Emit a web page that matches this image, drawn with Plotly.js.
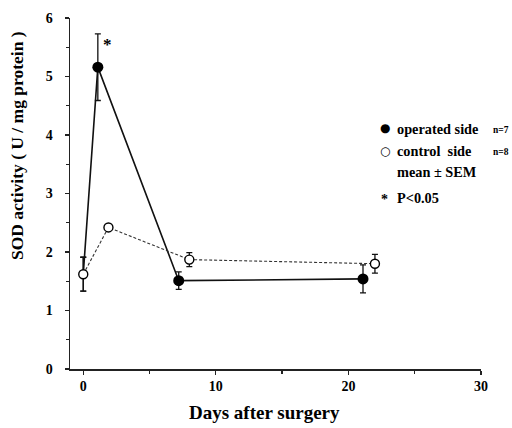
<!DOCTYPE html>
<html>
<head>
<meta charset="utf-8">
<script src="https://cdn.plot.ly/plotly-3.0.1.min.js"></script>
<style>html,body{margin:0;padding:0;background:#fff;}#chart{width:512px;height:428px;}</style>
</head>
<body>
<div id="chart"></div>
<script>
// Data
const operatedDays = [0, 1.1, 7.2, 21.1];
const operatedMean = [1.62, 5.16, 1.51, 1.54];
const operatedSEM  = [0.29, 0.57, 0.15, 0.24];

const controlDays = [0, 1.9, 8.0, 22.0];
const controlMean = [1.62, 2.42, 1.87, 1.80];
const controlSEM  = [0.29, 0.0, 0.12, 0.16];

const yTicks = [0, 1, 2, 3, 4, 5, 6];
const xTicks = [0, 10, 20, 30];

const serif = 'Liberation Serif, Times New Roman, serif';

const operated = {
  x: operatedDays, y: operatedMean, type: 'scatter', mode: 'lines+markers',
  name: 'operated side',
  line: {color: '#111', width: 1.6},
  marker: {color: '#000', opacity: 1, size: operatedDays.map((d, i) => i === 0 ? 0 : 11), symbol: 'circle',
           line: {color: '#000', width: 0}},
  error_y: {type: 'data', array: operatedSEM, visible: true, color: '#111', thickness: 1.3, width: 3},
  cliponaxis: false, showlegend: false
};
const control = {
  x: controlDays, y: controlMean, type: 'scatter', mode: 'lines+markers',
  name: 'control side',
  line: {color: '#333', width: 1.1, dash: '3px,2px'},
  marker: {color: '#fff', opacity: 1, size: 9, symbol: 'circle', line: {color: '#000', width: 1.4}},
  error_y: {type: 'data', array: controlSEM, visible: true, color: '#111', thickness: 1.3, width: 3},
  cliponaxis: false, showlegend: false
};

const PX = (p) => (p - 70) / 411;
const PY = (p) => (369 - p) / 351;
const bold = (size) => ({family: serif, size: size, color: '#000', weight: 700});

const annotations = [
  {text: '<b>SOD activity ( U / mg protein )</b>', xref: 'paper', yref: 'paper', x: PX(17), y: PY(146),
   textangle: -90, showarrow: false, font: bold(17.5), xanchor: 'center', yanchor: 'middle'},
  {text: '<b>Days after surgery</b>', xref: 'paper', yref: 'paper', x: PX(264), y: PY(412),
   showarrow: false, font: bold(19), xanchor: 'center', yanchor: 'middle'},
  {text: '<b>*</b>', xref: 'x', yref: 'y', x: 1.86, y: 5.55, showarrow: false, font: bold(17),
   xanchor: 'center', yanchor: 'middle'},
  {text: '●', xref: 'paper', yref: 'paper', x: PX(385), y: PY(128), showarrow: false,
   font: {family: 'DejaVu Sans', size: 12, color: '#000'}, xanchor: 'center', yanchor: 'middle'},
  {text: '○', xref: 'paper', yref: 'paper', x: PX(385), y: PY(151), showarrow: false,
   font: {family: 'DejaVu Sans', size: 12, color: '#000'}, xanchor: 'center', yanchor: 'middle'},
  {text: '<b>operated side</b>', xref: 'paper', yref: 'paper', x: PX(395), y: PY(129), showarrow: false,
   font: bold(14.3), xanchor: 'left', yanchor: 'middle'},
  {text: '<b>n=7</b>', xref: 'paper', yref: 'paper', x: PX(510), y: PY(130), showarrow: false,
   font: bold(9.5), xanchor: 'right', yanchor: 'middle', borderpad: 0},
  {text: '<b>control&nbsp;&nbsp;side</b>', xref: 'paper', yref: 'paper', x: PX(395), y: PY(151), showarrow: false,
   font: bold(14.3), xanchor: 'left', yanchor: 'middle'},
  {text: '<b>n=8</b>', xref: 'paper', yref: 'paper', x: PX(510), y: PY(152), showarrow: false,
   font: bold(9.5), xanchor: 'right', yanchor: 'middle', borderpad: 0},
  {text: '<b>mean ± SEM</b>', xref: 'paper', yref: 'paper', x: PX(395), y: PY(172), showarrow: false,
   font: bold(14.3), xanchor: 'left', yanchor: 'middle'},
  {text: '<b>*</b>', xref: 'paper', yref: 'paper', x: PX(384), y: PY(199), showarrow: false,
   font: bold(14), xanchor: 'center', yanchor: 'middle'},
  {text: '<b>P<0.05</b>', xref: 'paper', yref: 'paper', x: PX(395), y: PY(198), showarrow: false,
   font: bold(14.3), xanchor: 'left', yanchor: 'middle'}
];

const layout = {
  width: 512, height: 428,
  margin: {l: 70, r: 31, t: 18, b: 59},
  paper_bgcolor: '#fff', plot_bgcolor: '#fff',
  showlegend: false,
  xaxis: {
    range: [-1, 30], tickvals: xTicks, ticktext: xTicks.map(v => '<b>' + v + '</b>'),
    showgrid: false, zeroline: false, showline: true, linecolor: '#222', linewidth: 1.5,
    ticks: 'outside', ticklen: 4, tickwidth: 1.3, tickcolor: '#222',
    tickfont: {family: serif, size: 14, color: '#000', weight: 700},
    minor: {tickvals: [5, 15, 25], ticks: 'outside', ticklen: 3, tickcolor: '#222', showgrid: false}
  },
  yaxis: {
    range: [0, 6], tickvals: yTicks, ticktext: yTicks.map(v => '<b>' + v + '</b>'),
    showgrid: false, zeroline: false, showline: true, linecolor: '#222', linewidth: 1.5,
    ticks: 'outside', ticklen: 4, tickwidth: 1.3, tickcolor: '#222', ticklabelstandoff: 9,
    tickfont: {family: serif, size: 14, color: '#000', weight: 700},
    minor: {dtick: 0.5, ticks: 'outside', ticklen: 3, tickcolor: '#222', showgrid: false}
  },
  annotations: annotations
};

Plotly.newPlot('chart', [operated, control], layout, {staticPlot: true, displayModeBar: false});
</script>
</body>
</html>
